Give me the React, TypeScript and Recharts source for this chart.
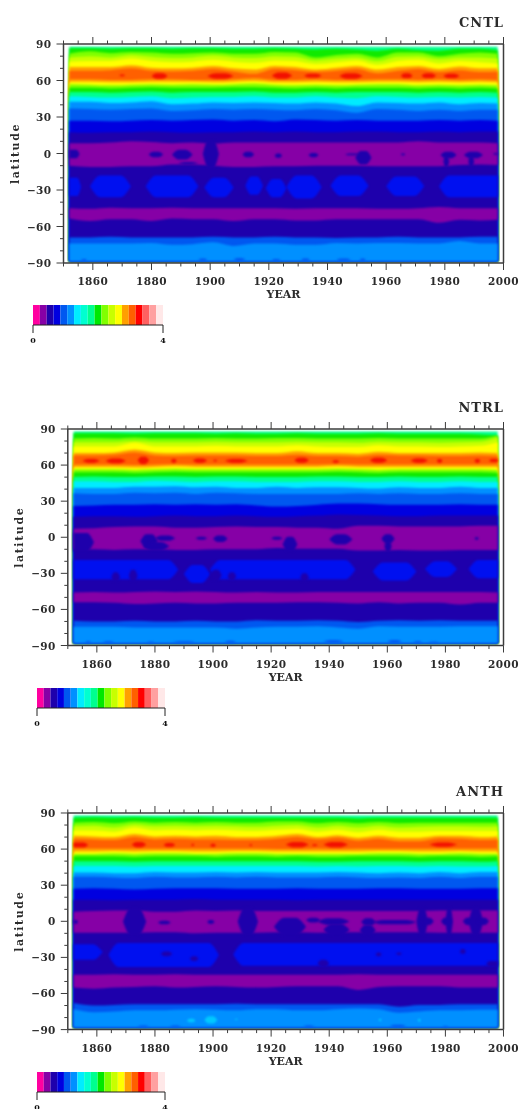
import React from 'react';
import { AreaChart, Area, XAxis, YAxis, BarChart, Bar } from 'recharts';

const YEARS = [1852,1859,1866,1873,1880,1887,1894,1901,1908,1915,1922,1929,1936,1943,1950,1957,1964,1971,1978,1985,1992,1998];

// Colours of the contour levels
const LEVEL_COLORS = ['#ff00a0','#8600a6','#1e00ac','#0000e0','#0058f0','#0090ff','#00ecff','#00ffd0','#00ff90','#00e800','#80ff00','#c8ff00','#ffff00','#ffa000','#ff6000','#ff0000','#ff6060','#ffa0a0','#ffe8e8'];
const LEVEL_STEP = [0.21];
const C = { spring:'#00ff90', green:'#10ea00', lime:'#80ff00', yg:'#c8ff00', yellow:'#ffff00', orange:'#ffa000', deep:'#ff6000', red:'#f21000', cyan:'#00ecff', azure:'#0090ff', blue:'#0058f0', dblue:'#0000e0', tropic:'#0010f0', navy:'#1e00ac', purple:'#8600a6', pale:'#00c8ff' };

// ---------- CNTL : upper edge (latitude) of each contour band
const CNTL_TOP =      [87.8,87.8,87.8,87.8,87.8,87.8,87.8,87.8,87.8,87.8,87.8,87.8,87.8,87.8,87.8,87.8,87.8,87.8,87.8,87.8,87.8,87.8];
const CNTL_GREEN =    [86.5,86.5,86,86.5,86.5,86,86.5,86.5,86,86,86.5,86,85.5,86,85.5,84.5,86,85,84.5,86,86,85];
const CNTL_LIME =     [82,84,82.5,83.5,83,82,82.5,83,82,82,83.5,83,79,81,82,79,83,83,80,82,83,82];
const CNTL_YG =       [79,80,79,81,79.5,78.5,79,80.5,79,78.5,80,79.5,76.5,78,79,76,79.5,80,77.5,79,79,78];
const CNTL_YELLOW =   [75.5,76,76,78,76,75,75.5,77,75.5,74.5,76.5,76,73.5,75,76.5,73,76,77,74,76,75,74];
const CNTL_ORANGE =   [71,71,71,72.5,70.5,70,70.5,72,70,69,72,71,69,70.5,72,69,71,72,69.5,71.5,70,70];
const CNTL_DEEP =     [68,68,68.5,70,68,67.5,68,69.5,67.5,65.5,69.5,68.5,67,68,69.5,66,68,69.5,67,68.5,67,67.5];
const CNTL_ORANGE_S = [61,61,60.5,60.5,61,61,60.5,60.5,61,62,60.5,60.5,61,60.5,60.5,61,61,60.5,61,60.5,61,60.5];
const CNTL_YELLOW_S = [59,59,58.5,58.5,59,59,59,58.5,59,59.5,58.5,58.5,59,58.5,58.5,59,59,58.5,59,58.5,59,58.5];
const CNTL_LIME_S =   [57,56.5,56,56.5,57,56.5,57,56.5,57,57.5,56.5,56,56.5,56,56.5,57,57,56,56.5,56,56.5,56];
const CNTL_GREEN_S =  [54,54,53.5,54,54.5,54,54,54,54.5,54.5,54,53.5,54,53.5,54,54,54,53.5,54,53.5,54,53.5];
const CNTL_SPRING_S = [50.5,50.5,50,50.5,51,50,50.5,50.5,50.5,51,50,50,50.5,50,50.5,50.5,50.5,50,50.5,50,50.5,50];
const CNTL_CYAN =     [47,46.5,46,46.5,47,45.5,46,46.5,46.5,47,46,46,47,46,45.5,47,46.5,46,46.5,46,46.5,46];
const CNTL_AZURE =    [42.5,42.5,41.5,42,43,40.5,41,42,41.5,42,41.5,41,42,41,39,42,41.5,41,42,40.5,41.5,41];
const CNTL_BLUE =     [37,36.5,36,36.5,37,35,35.5,36.5,36,36.5,36,35.5,36.5,35.5,33.5,36.5,36,35,36,35,36,36];
const CNTL_DBLUE =    [27,27,26.5,27,27.5,27,27.5,28,27,27.5,26.5,28,27.5,27,27.5,27,27,27,27.5,27,27.5,27];
const CNTL_NAVY =     [17.5,17,17.5,17.5,18,17.5,17,17.5,17.5,18,17.5,18,17.5,17.5,18,18,17.5,17.5,18,17.5,18,18];
const CNTL_EQ_HI =    [8.5,8.5,9,10,9.5,8.5,9,8,9,9,9,9,9,9,9,9,9,10,9,9,9,8.5];
const CNTL_EQ_LO =    [-10,-11,-11,-10.5,-10.5,-9,-9,-10,-11,-11,-10.5,-10.5,-10,-10,-10,-10.5,-10.5,-10.5,-10.5,-9.5,-9,-9.5];
const CNTL_SP_HI =    [-45,-45.5,-44.5,-45,-45,-44.5,-45,-45,-45,-45,-45,-45.5,-45,-45,-45,-45.5,-45.5,-45,-44,-45,-45,-45];
const CNTL_SP_LO =    [-53.5,-55.5,-54,-54,-55.5,-53.5,-54,-54,-55.5,-54,-54,-55,-55,-54,-54,-54,-54,-54,-57,-54.5,-55,-54.5];
const CNTL_S_BLUE =   [-69,-69,-68.5,-69,-69,-69,-69,-68.5,-69,-69,-68.5,-69,-69,-69.5,-69,-69,-68.5,-69,-69,-69,-68.5,-68.5];
const CNTL_S_AZURE =  [-74,-74,-74,-74,-73.5,-75,-74.5,-73,-76,-74,-74,-75,-75,-73.5,-74,-73.5,-73.5,-74,-74,-72,-74,-74];
// patches: [first year, last year, south latitude, north latitude]
const CNTL_RED = [[1869,1871,63.5,65],[1880,1885.5,61.5,66],[1899,1908,61.5,66],[1921,1928,61.5,66.5],[1932,1938,62.5,65.5],[1944,1952,61.5,66],[1965,1969,62,66],[1972,1977,62,66],[1979.5,1985,62,65.5]];
const CNTL_TROPICS = [[1852,1856,-35,-20],[1859,1873,-36,-18],[1878,1896,-36,-18],[1898,1908,-36,-20],[1912,1918,-34,-19],[1919,1926,-36,-21],[1926,1938,-37,-18],[1941,1954,-35,-18],[1960,1973,-35,-19],[1978,1998,-36,-18]];
const CNTL_HOLES = [[1852,1855.5,-4,3],[1879,1884,-3,1.5],[1887,1894,-5,3],[1889,1896,-9,-7],[1897.5,1903,-12,11],[1911,1915,-3,1.5],[1922,1924.5,-3.5,0],[1933.5,1937,-3,0.5],[1946,1951,-1.5,0],[1949.5,1955,-9,2],[1965,1966.5,-1.5,0],[1978.5,1984,-4,1.5],[1979.5,1981.5,-11,-2],[1986.5,1993,-4,1.5],[1988,1990,-11,-2],[1996.5,1998,-1,0.5]];
const CNTL_SLIVERS = [[1856,1858,-88.4,-86.8],[1896,1899,-88.4,-86.2],[1908,1912,-88.4,-85.8],[1921,1924,-88.4,-86.8],[1931,1934,-88.4,-86.2],[1943,1948,-88.4,-86.2],[1951,1953,-88.4,-86.2]];
const CNTL_SPOTS: number[][] = [];

// ---------- NTRL
const NTRL_TOP =      [87.9,87.9,87.9,87.9,87.9,87.9,87.9,87.9,87.9,87.9,87.9,87.9,87.9,87.9,87.9,87.9,87.9,87.9,87.9,87.9,87.9,87.9];
const NTRL_GREEN =    [86.5,86.5,86.5,86,86.5,86.5,86.5,86,86.5,86,86,86.5,86,86,86,86.5,86,86,86,86,85.5,84.5];
const NTRL_LIME =     [82,82.5,82,83,82,82,82,82.5,82,82,82.5,82.5,82,82,82,82.5,82,82,82,82,82,84.5];
const NTRL_YG =       [79,79,79,80,79,79,79,79.5,79,79,79,79.5,79,79,78.5,79.5,79,79,78.5,79,79.5,83];
const NTRL_YELLOW =   [75.5,75.5,75.5,78.5,75.5,75.5,75.5,76,75.5,75.5,75.5,76.5,75.5,75,75,76.5,75.5,75.5,75,75.5,76,79];
const NTRL_ORANGE =   [70,70,70.5,73,70.5,70,70.5,70.5,70.5,70,70,71.5,70,70,69.5,71,70,70,70,70,70.5,70];
const NTRL_DEEP =     [68,68,68.5,70.5,68,67.5,68,68,68,67.5,67.5,68.5,67.5,67.5,67,68.5,68,68,67.5,67.5,68,67.5];
const NTRL_ORANGE_S = [60.5,60.5,60.5,60,60.5,61,60.5,60.5,60.5,60.5,60.5,60.5,60.5,61,60.5,60.5,60.5,60.5,60.5,60.5,60.5,60.5];
const NTRL_YELLOW_S = [58.5,58.5,58.5,58,58.5,59,58.5,58.5,58.5,58.5,58.5,58.5,58.5,59,58.5,58.5,58.5,58.5,58.5,58.5,58.5,58.5];
const NTRL_LIME_S =   [56.5,56.5,56.5,56,56.5,57,56.5,56.5,56.5,56.5,56.5,56.5,56.5,57,56.5,56,56.5,56.5,56.5,56.5,56.5,56];
const NTRL_GREEN_S =  [54,54,54,53.5,54,54.5,54,54,54,54,54,54,54,54.5,54,53.5,54,54,54,54,54,53.5];
const NTRL_SPRING_S = [50,50.5,50,50,50.5,50.5,50,50.5,50.5,50,50,50,50.5,50.5,50,50,50.5,50,50,50.5,50,50];
const NTRL_CYAN =     [46.5,46.5,46,46,47,46.5,46,46.5,46.5,46,46,46,46.5,46.5,46,46,46.5,46,46,46.5,46,46];
const NTRL_AZURE =    [41,41,41,42,42,42.5,41.5,42,41,41,42,41,41.5,41.5,41,40.5,41.5,41,41,42,41,41];
const NTRL_BLUE =     [36.5,36,36,37,36.5,37,36,37,36.5,36,36,36,36,36,36.5,36,36.5,36,36,36.5,36,36];
const NTRL_DBLUE =    [26,26.5,27,27,27.5,27,27.5,27,27.5,26.5,25.5,26,27,28,28,27.5,27,27,27,27.5,27,27];
const NTRL_NAVY =     [17,17.5,17.5,17,17.5,18,17.5,17.5,18,17.5,17,17.5,18,19,18.5,18,17.5,17.5,18,18,18,18];
const NTRL_EQ_HI =    [7,7.5,8.5,9,9,8,8,8.5,9,8.5,8.5,8,8,7,9.5,9.5,9,9,9,9,9.5,9.5];
const NTRL_EQ_LO =    [-10,-10,-10.5,-10,-10,-10.5,-10.5,-10,-10,-10,-9,-9.5,-9.5,-9.5,-11,-11,-10.5,-11,-11,-10.5,-10.5,-10.5];
const NTRL_SP_HI =    [-46,-45.5,-46,-45.5,-45,-45.5,-45,-45.5,-46,-45.5,-46,-46,-45.5,-45.5,-45.5,-45.5,-45.5,-45.5,-45.5,-45.5,-45.5,-46];
const NTRL_SP_LO =    [-54,-54,-54.5,-55.5,-55,-54.5,-55,-55,-54.5,-54.5,-54.5,-54,-54,-54.5,-55,-54,-55,-54.5,-54.5,-56,-54.5,-54.5];
const NTRL_S_BLUE =   [-69.5,-70,-70,-69.5,-70,-70,-69.5,-70,-70,-69,-69.5,-69.5,-69,-69.5,-70.5,-69.5,-69,-69.5,-69,-69.5,-69.5,-69.5];
const NTRL_S_AZURE =  [-74.5,-74.5,-74.5,-75,-75,-75,-75,-75,-76,-75,-74.5,-74.5,-74,-75,-76,-74,-74.5,-74.5,-74.5,-74,-74,-74];
const NTRL_RED = [[1855,1861,62,65],[1863,1870,61.5,65.5],[1874,1878,61,67],[1885.5,1887.5,62,65],[1893,1898,62,65.5],[1900,1901.5,63,64.5],[1904,1912,62,65],[1928,1933,62,66],[1941,1943.5,62,64],[1954,1960,62,66],[1968,1974,62,65.5],[1977,1979,62,65],[1990,1992,62,65],[1995,1998,62.5,65]];
const NTRL_TROPICS = [[1852,1888,-35,-19],[1890,1899,-38,-23],[1899,1949,-35,-19],[1955,1970,-36,-21],[1973,1984,-33,-20],[1988,1998,-34,-19]];
const NTRL_NOTCHES = [[1865,1868,-37,-29],[1871,1874,-37,-27],[1899,1903,-36,-27],[1905,1908,-36,-29],[1930,1933,-37,-30]];
const NTRL_HOLES = [[1852,1859,-12,3.5],[1875,1881,-9,2.5],[1880,1887,-3,1.5],[1876,1885,-11,-4],[1894,1898,-2,0.5],[1900,1905,-4,1.5],[1920,1924,-2,0.5],[1924,1929,-12,0.5],[1940,1948,-6,2.5],[1958,1962.5,-5,2.5],[1959,1961.5,-12,-3],[1990,1991.5,-2,0]];
const NTRL_SLIVERS = [[1856,1858,-88,-86.5],[1862,1866,-88,-86.5],[1877,1880,-88,-86.8],[1886,1894,-88,-86.5],[1904,1908,-88,-86],[1938,1945,-88,-85.5],[1960,1965,-88,-85.5],[1969,1972,-88,-86.5],[1974,1978,-88,-86.8]];
const NTRL_SPOTS: number[][] = [];

// ---------- ANTH
const ANTH_TOP =      [87.9,87.9,87.9,87.9,87.9,87.9,87.9,87.9,87.9,87.9,87.9,87.9,87.9,87.9,87.9,87.9,87.9,87.9,87.9,87.9,87.9,87.9];
const ANTH_GREEN =    [86,86.5,86,86.5,86,86,86.5,86,86,86,86,86,86,86,85.5,86,86,86,86,86,86,86];
const ANTH_LIME =     [82,82.5,81.5,83,82,82.5,82,82.5,82,82,83,83,81.5,82.5,81.5,82.5,81.5,82,82,82,82,82];
const ANTH_YG =       [79,79.5,78,80.5,79,79.5,79,79.5,79,78.5,79.5,80,78,79.5,78,79.5,78,78.5,79,79,78.5,79];
const ANTH_YELLOW =   [75.5,75.5,74.5,78,75.5,76,75.5,76,75.5,75,76,77,74.5,76,74,76,74.5,74.5,75,75,75,75];
const ANTH_ORANGE =   [71,70.5,70,72.5,70.5,71,70.5,71,70,70,71,72.5,70,71.5,69.5,71,69.5,69.5,71,71,70,70.5];
const ANTH_DEEP =     [68.5,68,67.5,70,68,68.5,68,68,67.5,67.5,68.5,70,68,69.5,67,68.5,66.5,66.5,69,68.5,67.5,68];
const ANTH_ORANGE_S = [60.5,60.5,60.5,60.5,60.5,60.5,60.5,60.5,60.5,60.5,60,60,60.5,60,60.5,60.5,60.5,60.5,60.5,60.5,60.5,60.5];
const ANTH_YELLOW_S = [58,58,58.5,58,58.5,58.5,58,58,58.5,58.5,58,58,58,58,58,58.5,58.5,58,58,58.5,58,58];
const ANTH_LIME_S =   [56,56,56.5,56,56.5,56.5,56,56,56.5,56.5,56,56,56,56,56,56.5,56.5,56,56,56.5,56,56];
const ANTH_GREEN_S =  [54,54,54,53.5,54,54,54,53.5,54,54,53.5,54,53.5,53.5,54,54,54,53.5,54,54,53.5,54];
const ANTH_SPRING_S = [50,50,50,49.5,50,50,50,50,50,50,50,50,49.5,49.5,50,50,50,49.5,50,50,49.5,50];
const ANTH_CYAN =     [46,46,46,45.5,46,46,46,46,46,46,46,46,45.5,46,45.5,46,46,45.5,46,45.5,45.5,46];
const ANTH_AZURE =    [40.5,40.5,40,40,41,40.5,40.5,41,40.5,41,40.5,40.5,40.5,41,40.5,40,40.5,40,41,40,41,41];
const ANTH_BLUE =     [37,37,36.5,36,37,36.5,36.5,37,36.5,37,36.5,36.5,36.5,37,36.5,36,36.5,36,37,36,37,37];
const ANTH_DBLUE =    [27,27.5,27,26.5,27,27.5,27.5,27.5,27,27,27,27.5,27,27,27,27.5,27.5,27,27,27,27.5,27.5];
const ANTH_NAVY =     [18,18,17.5,18,18,18,18.5,18,18,18,18,17.5,18,18,18,18,18,18,18,18,18,18];
const ANTH_EQ_HI =    [8,8.5,9,9,8,8,9,8.5,9,8.5,8.5,8.5,8.5,8.5,8.5,8.5,8.5,8.5,9,9,9,9];
const ANTH_EQ_LO =    [-9.5,-9.5,-9.5,-9.5,-9,-9,-10,-9.5,-9.5,-9.5,-9,-9,-9.5,-9,-9,-9,-9,-9,-9.5,-9.5,-9.5,-9.5];
const ANTH_SP_HI =    [-44.5,-44.5,-44,-44.5,-44.5,-44,-44.5,-44.5,-44.5,-44.5,-44.5,-44.5,-44.5,-44.5,-44,-44.5,-44.5,-44.5,-44.5,-44.5,-44.5,-44.5];
const ANTH_SP_LO =    [-55,-56,-55,-54.5,-54,-55,-54.5,-54,-54.5,-55,-54.5,-54,-54,-54,-57,-54.5,-54,-54,-54,-55,-55,-55];
const ANTH_S_BLUE =   [-68,-70,-69.5,-69,-69,-69,-69,-69,-68.5,-69,-69,-69,-69,-69,-69,-69,-71,-69.5,-69.5,-69,-69,-69];
const ANTH_S_AZURE =  [-73,-75.5,-75,-74,-74,-73.5,-73,-73.5,-74,-73,-73,-74,-74,-73,-72.5,-73,-76,-75,-74,-74,-73.5,-73.5];
const ANTH_RED = [[1852,1857,61.5,65.5],[1872,1877,61.5,66],[1883,1887,62,65],[1892.5,1893.5,62.5,64.5],[1899,1901,62,64.5],[1912.5,1913.5,62.5,64],[1925,1933,61.5,66],[1934,1936,62.5,64],[1938,1946.5,61.5,66],[1974.5,1984,62,65.5]];
const ANTH_TROPICS = [[1852,1862,-32,-19],[1864,1902,-38,-18],[1907,1998,-37,-18]];
const ANTH_NOTCHES = [[1882,1886,-29,-25],[1892,1895,-33,-29],[1936,1940,-38,-32],[1956,1958,-29,-26],[1963,1965,-28,-26],[1985,1987,-27,-23],[1994,1998,-38,-33]];
const ANTH_HOLES = [[1852,1853.5,-2,1],[1869,1877,-12,11.5],[1881,1885.5,-2.5,0.5],[1898,1900.5,-2,1],[1908.5,1915.5,-12,11.5],[1921,1932,-12,3],[1932,1937,-1,3],[1936,1947,-3,2.5],[1938,1947,-12,-2],[1951,1956,-3.5,2.5],[1950.5,1956,-12,-3],[1955,1970,-2.5,1],[1970,1974,-12,11.5],[1972,1976,-3,3],[1978.5,1982,-3,3],[1980,1982.6,-12,11.5],[1986,1990,-3,3],[1988,1993,-12,11.5],[1991,1995,-3,3]];
const ANTH_SLIVERS = [[1874,1878,-88,-86.5],[1885,1889,-88,-86.5],[1931,1935,-88,-86.5],[1960.8,1966.5,-88,-86],[1979,1981,-88,-87]];
const ANTH_SPOTS = [[1891,1894,-84,-81],[1897,1901.5,-85,-79],[1907.5,1908.5,-82,-81],[1957,1958,-83,-81],[1970.5,1971.5,-83.5,-81]];

const X_TICKS = [1850,1855,1860,1865,1870,1875,1880,1885,1890,1895,1900,1905,1910,1915,1920,1925,1930,1935,1940,1945,1950,1955,1960,1965,1970,1975,1980,1985,1990,1995,2000];
const Y_TICKS = [-90,-80,-70,-60,-50,-40,-30,-20,-10,0,10,20,30,40,50,60,70,80,90];

const AXIS = '#3c3c3c';
const TEXT = '#2b2b2b';
const FONT = '"DejaVu Serif", serif';
const tickFont = { fontFamily: FONT, fontSize: 10.5, fontWeight: 700, fill: TEXT, letterSpacing: 0.4 } as const;

function BottomTick({ x, y, payload }: any) {
  const major = (payload.value - 1860) % 20 === 0;
  const showLabel = major && payload.value >= 1860;
  return <g>
    <line x1={x} x2={x} y1={y} y2={y + (major ? 7 : 3.5)} stroke={AXIS} strokeWidth={1} />
    {showLabel && <text x={x} y={y + 22} textAnchor="middle" {...tickFont}>{payload.value}</text>}
  </g>;
}
function TopTick({ x, y, payload }: any) {
  const major = (payload.value - 1860) % 20 === 0;
  return <line x1={x} x2={x} y1={y} y2={y - (major ? 7 : 3.5)} stroke={AXIS} strokeWidth={1} />;
}
function LeftTick({ x, y, payload }: any) {
  const major = payload.value % 30 === 0;
  const label = payload.value < 0 ? '\u2212' + Math.abs(payload.value) : String(payload.value);
  return <g>
    <line x1={x} x2={x - (major ? 7 : 3.5)} y1={y} y2={y} stroke={AXIS} strokeWidth={1} />
    {major && <text x={x - 12} y={y + 4} textAnchor="end" {...tickFont}>{label}</text>}
  </g>;
}
function RightTick({ x, y, payload }: any) {
  const major = payload.value % 30 === 0;
  return <line x1={x} x2={x + (major ? 7 : 4)} y1={y} y2={y} stroke={AXIS} strokeWidth={1} />;
}

const patchRows = ([a, b, lo, hi]: number[]) => {
  const mid = (lo + hi) / 2;
  const w = Math.min((b - a) / 3, 3.5);
  const rows: any[] = [];
  rows.push({ year: a, r: a === 1852 ? [lo, hi] : [mid, mid] });
  rows.push({ year: a + w, r: [lo, hi] });
  rows.push({ year: b - w, r: [lo, hi] });
  rows.push({ year: b, r: b === 1998 ? [lo, hi] : [mid, mid] });
  return rows;
};

type P = {
  title: string; base: number; plotTop: number; plotBottom: number; plotLeft: number; plotRight: number;
  bands: [string, number[]][]; eqHi: number[]; eqLo: number[]; spHi: number[]; spLo: number[]; sBlue: number[]; sAzure: number[];
  red: number[][]; tropics: number[][]; notches: number[][]; holes: number[][]; slivers: number[][]; spots: number[][];
  titleTop: number; barTop: number; barLeft: number; barW: number; latOffset: number;
};

function Field({ p }: { p: P }) {
  const rows = YEARS.map((year, i) => {
    const row: any = { year, eq: [p.eqLo[i], p.eqHi[i]], sp: [p.spLo[i], p.spHi[i]], sb: [p.base, p.sBlue[i]], sa: [p.base, p.sAzure[i]] };
    p.bands.forEach(([, arr], k) => { row['b' + k] = [p.base, arr[i]]; });
    return row;
  });
  const common = { type: 'monotone' as const, stroke: 'none', fillOpacity: 1, dot: false, activeDot: false, isAnimationActive: false, xAxisId: 'b', yAxisId: 'l', legendType: 'none' as const, style: { filter: 'blur(0.8px)' } };
  const patches = (list: number[][], fill: string, name: string) => list.map((q, i) => (
    <Area key={name + i} {...common} data={patchRows(q)} dataKey="r" fill={fill} />
  ));
  const pad = 40;
  const plotH = p.plotBottom - p.plotTop;
  return (
    <div style={{ position: 'absolute', left: 0, top: p.plotTop - pad }}>
      <AreaChart width={522} height={plotH + 2 * pad} data={rows} margin={{ top: 0, right: 0, bottom: 0, left: 0 }}>
        <XAxis xAxisId="b" dataKey="year" type="number" domain={[1850, 2000]} ticks={X_TICKS} interval={0} orientation="bottom" height={pad} tickSize={0} tickMargin={0} tickLine={false} tick={BottomTick} stroke={AXIS} strokeWidth={1.5}
          label={{ value: 'YEAR', position: 'insideBottom', offset: 0, dy: -5, style: { fontFamily: FONT, fontSize: 11, fontWeight: 700, fill: TEXT } }} />
        <XAxis xAxisId="t" dataKey="year" type="number" domain={[1850, 2000]} ticks={X_TICKS} interval={0} orientation="top" height={pad} tickSize={0} tickMargin={0} tickLine={false} tick={TopTick} stroke={AXIS} strokeWidth={1.5} />
        <YAxis yAxisId="l" type="number" domain={[-90, 90]} ticks={Y_TICKS} interval={0} orientation="left" width={p.plotLeft} tickSize={0} tickMargin={0} tickLine={false} tick={LeftTick} stroke={AXIS} strokeWidth={1.5}
          label={{ value: 'latitude', angle: -90, position: 'insideLeft', offset: p.latOffset, style: { textAnchor: 'middle', fontFamily: FONT, fontSize: 11, fontWeight: 700, fill: TEXT, letterSpacing: 1.6 } }} />
        <YAxis yAxisId="r" type="number" domain={[-90, 90]} ticks={Y_TICKS} interval={0} orientation="right" width={522 - p.plotRight} tickSize={0} tickMargin={0} tickLine={false} tick={RightTick} stroke={AXIS} strokeWidth={1.5} />
        {p.bands.map(([fill], k) => <Area key={'b' + k} {...common} dataKey={'b' + k} fill={fill} />)}
        {patches(p.tropics, C.tropic, 'tropic')}
        {patches(p.notches, C.navy, 'notch')}
        <Area {...common} dataKey="eq" fill={C.purple} />
        {patches(p.holes, C.navy, 'hole')}
        <Area {...common} dataKey="sp" fill={C.purple} />
        <Area {...common} dataKey="sb" fill={C.blue} />
        <Area {...common} dataKey="sa" fill={C.azure} />
        {patches(p.slivers, C.blue, 'sliver')}
        {patches(p.spots, C.pale, 'spot')}
        {patches(p.red, C.red, 'red')}
      </AreaChart>
    </div>
  );
}

function ColorBar({ left, top, width }: { left: number; top: number; width: number }) {
  const row: any = { name: 'scale' };
  LEVEL_COLORS.forEach((_, i) => { row['l' + i] = LEVEL_STEP[0]; });
  const m = 10;
  return (
    <div style={{ position: 'absolute', left: left - m, top }}>
      <BarChart width={width + 2 * m} height={43} layout="vertical" data={[row]} barCategoryGap={0} margin={{ top: 0, right: m, bottom: 0, left: m }}>
        <XAxis type="number" domain={[0, 3.99]} ticks={[0, 3.99]} tickFormatter={(v: number) => String(Math.round(v))} height={23} tickSize={8} tickMargin={4} stroke="#222" tick={{ fontFamily: FONT, fontSize: 8, fontWeight: 700, fill: '#111' }} interval={0} />
        <YAxis type="category" dataKey="name" hide />
        {LEVEL_COLORS.map((c, i) => <Bar key={c} dataKey={'l' + i} stackId="s" fill={c} isAnimationActive={false} />)}
      </BarChart>
    </div>
  );
}

const bandsOf = (a: number[][]): [string, number[]][] => {
  const cols = [C.spring, C.green, C.lime, C.yg, C.yellow, C.orange, C.deep, C.orange, C.yellow, C.lime, C.green, C.spring, C.cyan, C.azure, C.blue, C.dblue, C.navy];
  return a.map((arr, i) => [cols[i], arr]);
};

const PANELS: P[] = [
  { title: 'CNTL', base: -88.4, plotTop: 43.5, plotBottom: 262.5, plotLeft: 63.5, plotRight: 503.5, titleTop: 15, barTop: 305, barLeft: 33.3, barW: 130, latOffset: 15,
    bands: bandsOf([CNTL_TOP, CNTL_GREEN, CNTL_LIME, CNTL_YG, CNTL_YELLOW, CNTL_ORANGE, CNTL_DEEP, CNTL_ORANGE_S, CNTL_YELLOW_S, CNTL_LIME_S, CNTL_GREEN_S, CNTL_SPRING_S, CNTL_CYAN, CNTL_AZURE, CNTL_BLUE, CNTL_DBLUE, CNTL_NAVY]),
    eqHi: CNTL_EQ_HI, eqLo: CNTL_EQ_LO, spHi: CNTL_SP_HI, spLo: CNTL_SP_LO, sBlue: CNTL_S_BLUE, sAzure: CNTL_S_AZURE, red: CNTL_RED, tropics: CNTL_TROPICS, notches: [], holes: CNTL_HOLES, slivers: CNTL_SLIVERS, spots: CNTL_SPOTS },
  { title: 'NTRL', base: -88, plotTop: 428.5, plotBottom: 645, plotLeft: 67.8, plotRight: 503.5, titleTop: 400, barTop: 688, barLeft: 37.3, barW: 128, latOffset: 19,
    bands: bandsOf([NTRL_TOP, NTRL_GREEN, NTRL_LIME, NTRL_YG, NTRL_YELLOW, NTRL_ORANGE, NTRL_DEEP, NTRL_ORANGE_S, NTRL_YELLOW_S, NTRL_LIME_S, NTRL_GREEN_S, NTRL_SPRING_S, NTRL_CYAN, NTRL_AZURE, NTRL_BLUE, NTRL_DBLUE, NTRL_NAVY]),
    eqHi: NTRL_EQ_HI, eqLo: NTRL_EQ_LO, spHi: NTRL_SP_HI, spLo: NTRL_SP_LO, sBlue: NTRL_S_BLUE, sAzure: NTRL_S_AZURE, red: NTRL_RED, tropics: NTRL_TROPICS, notches: NTRL_NOTCHES, holes: NTRL_HOLES, slivers: NTRL_SLIVERS, spots: NTRL_SPOTS },
  { title: 'ANTH', base: -88, plotTop: 812.7, plotBottom: 1029.3, plotLeft: 67.8, plotRight: 503.5, titleTop: 784, barTop: 1072, barLeft: 37.3, barW: 128, latOffset: 19,
    bands: bandsOf([ANTH_TOP, ANTH_GREEN, ANTH_LIME, ANTH_YG, ANTH_YELLOW, ANTH_ORANGE, ANTH_DEEP, ANTH_ORANGE_S, ANTH_YELLOW_S, ANTH_LIME_S, ANTH_GREEN_S, ANTH_SPRING_S, ANTH_CYAN, ANTH_AZURE, ANTH_BLUE, ANTH_DBLUE, ANTH_NAVY]),
    eqHi: ANTH_EQ_HI, eqLo: ANTH_EQ_LO, spHi: ANTH_SP_HI, spLo: ANTH_SP_LO, sBlue: ANTH_S_BLUE, sAzure: ANTH_S_AZURE, red: ANTH_RED, tropics: ANTH_TROPICS, notches: ANTH_NOTCHES, holes: ANTH_HOLES, slivers: ANTH_SLIVERS, spots: ANTH_SPOTS },
];

export default function App() {
  return (
    <div style={{ position: 'absolute', left: 0, top: 0, width: 522, height: 1109, overflow: 'hidden', background: '#fff', filter: 'blur(0.5px)' }}>
      {PANELS.map((p) => (
        <React.Fragment key={p.title}>
          <Field p={p} />
          <div style={{ position: 'absolute', right: 18, top: p.titleTop, fontFamily: FONT, fontSize: 13, fontWeight: 700, color: TEXT, letterSpacing: 1 }}>{p.title}</div>
          <ColorBar left={p.barLeft} top={p.barTop} width={p.barW} />
        </React.Fragment>
      ))}
    </div>
  );
}
